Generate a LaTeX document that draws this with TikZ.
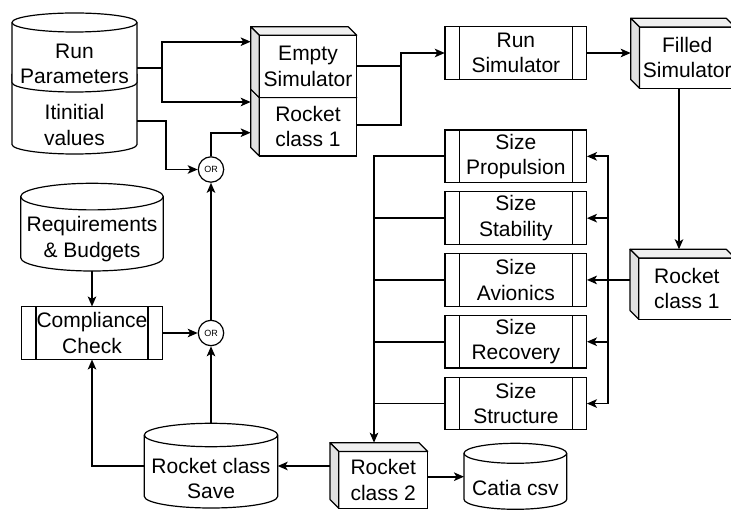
\documentclass[tikz,border=0pt]{standalone}
\usepackage{fontspec}
\setmainfont{Liberation Sans}
\usetikzlibrary{arrows.meta}

\tikzset{
  shapeline/.style={draw=black, line width=1.2pt},
  txt/.style={inner sep=0pt, align=center, font=\fontsize{21}{25.3}\selectfont},
  anchorbox/.style={inner sep=0pt, outer sep=0pt},
  conn/.style={draw=black, line width=1.8pt},
  arr/.style={conn, -{Stealth[length=10pt, width=8.5pt, inset=2.5pt]}},
  orc/.style={circle, shapeline, fill=white, minimum size=25.4pt, inner sep=0pt,
    font=\fontsize{9}{9}\selectfont},
}
\colorlet{topface}{black!6}
\colorlet{leftface}{black!12}

% cylinder: name, x1, y1, x2, y2, ellipse half height, text y, text
\newcommand\cylshape[8]{%
  \pgfmathsetmacro\cxx{(#2+#4)/2}%
  \pgfmathsetmacro\rxx{(#4-#2)/2}%
  \pgfmathsetmacro\cyy{(#3+#5)/2}%
  \pgfmathsetmacro\www{#4-#2}%
  \pgfmathsetmacro\hhh{#5-#3}%
  \draw[shapeline, fill=white] (#2,#3+#6) -- (#2,#5-#6)
    arc[start angle=180, end angle=360, x radius=\rxx pt, y radius=#6 pt]
    -- (#4,#3+#6)
    arc[start angle=0, end angle=180, x radius=\rxx pt, y radius=#6 pt] -- cycle;
  \draw[shapeline] (#2,#3+#6)
    arc[start angle=180, end angle=360, x radius=\rxx pt, y radius=#6 pt];
  \node[anchorbox, minimum width=\www pt, minimum height=\hhh pt] (#1) at (\cxx,\cyy) {};
  \node[txt] (#1-t) at (\cxx,#7) {#8};
}

% box with depth: name, x1, y1, x2, y2, depth, text
\newcommand\cubeshape[7]{%
  \pgfmathsetmacro\cxx{(#2+#4)/2}%
  \pgfmathsetmacro\cyy{(#3+#5)/2}%
  \pgfmathsetmacro\fxx{(#2+#6+#4)/2}%
  \pgfmathsetmacro\fyy{(#3+#6+#5)/2}%
  \pgfmathsetmacro\www{#4-#2}%
  \pgfmathsetmacro\hhh{#5-#3}%
  \draw[shapeline, fill=white] (#2+#6,#3+#6) rectangle (#4,#5);
  \draw[shapeline, fill=topface, line join=round] (#2,#3) -- (#4-#6,#3) -- (#4,#3+#6) -- (#2+#6,#3+#6) -- cycle;
  \draw[shapeline, fill=leftface, line join=round] (#2,#3) -- (#2+#6,#3+#6) -- (#2+#6,#5) -- (#2,#5-#6) -- cycle;
  \node[anchorbox, minimum width=\www pt, minimum height=\hhh pt] (#1) at (\cxx,\cyy) {};
  \node[txt] (#1-t) at (\fxx,\fyy) {#7};
}

% process box with side bars: name, x1, y1, x2, y2, text
\newcommand\procshape[6]{%
  \pgfmathsetmacro\cxx{(#2+#4)/2}%
  \pgfmathsetmacro\cyy{(#3+#5)/2}%
  \pgfmathsetmacro\www{#4-#2}%
  \pgfmathsetmacro\hhh{#5-#3}%
  \draw[shapeline, fill=white] (#2,#3) rectangle (#4,#5);
  \draw[shapeline] (#2+14.3,#3) -- (#2+14.3,#5) (#4-14.3,#3) -- (#4-14.3,#5);
  \node[txt, minimum width=\www pt, minimum height=\hhh pt] (#1) at (\cxx,\cyy) {#6};
}

\begin{document}
\begin{tikzpicture}[x=1pt, y=-1pt]
\useasboundingbox (0,0) rectangle (731,510);
\clip (0,0) rectangle (731,510);
\fill[white] (0,0) rectangle (731,510);

% data stores
\cylshape{iv}{12}{65}{137}{154}{9.5}{125}{Itinitial\\values}
\cylshape{rp}{12}{13}{137}{92}{9.5}{64}{Run\\Parameters}
\cylshape{req}{20.7}{183.3}{163.3}{271}{13.3}{239}{Requirements\\\& Budgets}
\cylshape{save}{144.3}{423.3}{277.7}{508}{11.7}{478.5}{Rocket class\\Save}
\cylshape{cat}{464}{443.3}{566.7}{509.3}{10}{488.3}{Catia csv}

% objects
\cubeshape{rc1}{250.7}{89}{356.7}{156}{8.6}{Rocket\\class 1}
\cubeshape{es}{250.7}{26.7}{356.7}{97.7}{8.6}{Empty\\Simulator}
\cubeshape{fill}{630.7}{18.3}{735}{88.3}{8.8}{Filled\\Simulator}
\cubeshape{rcr}{630}{249.3}{735}{319.3}{8.8}{Rocket\\class 1}
\cubeshape{rc2}{330}{442.7}{427.7}{508.3}{8.8}{Rocket\\class 2}

% processes
\procshape{run}{445}{26.7}{586.7}{79.3}{Run\\Simulator}
\procshape{sp}{445}{130}{586.7}{182.7}{Size\\Propulsion}
\procshape{sst}{445}{191.8}{586.7}{244.5}{Size\\Stability}
\procshape{savi}{445}{253.6}{586.7}{306.3}{Size\\Avionics}
\procshape{srec}{445}{315.4}{586.7}{368.1}{Size\\Recovery}
\procshape{sstr}{445}{377.2}{586.7}{429.9}{Size\\Structure}
\procshape{cc}{21.7}{306.7}{162.3}{359.3}{Compliance\\Check}

% gates
\node[orc] (or1) at (211,169.5) {OR};
\node[orc] (or2) at (211,333) {OR};

% routing points
\coordinate (jrp) at (162,68);
\coordinate (jes) at (162,41.7);
\coordinate (jrc) at (162,102);
\coordinate (jiv) at (165.7,120.7);
\coordinate (jin) at (211,132.7);
\coordinate (jes2) at (400.7,66);
\coordinate (jrc2) at (400.7,125);
\coordinate (ysave) at (211,466);
\coordinate (ycat) at (440,476.7);
\coordinate (xf) at (679,0);
\coordinate (bus) at (608,280);
\coordinate (lbus) at (374,0);

% inputs to the simulator
\draw[conn] (rp.east|-jrp) -- (jrp);
\draw[arr] (jrp) -- (jes) -- (es.west|-jes);
\draw[arr] (jrp) -- (jrc) -- (rc1.west|-jrc);
\draw[arr] (iv.east|-jiv) -- (jiv) |- (or1);
\draw[arr] (or1) |- (rc1.west|-jin);
\draw[arr] (or2) -- (or1);

% compliance loop
\draw[arr] (req) -- (cc);
\draw[arr] (cc) -- (or2);
\draw[arr] (save) -- (or2);
\draw[arr] (save.west|-ysave) -| (cc);
\draw[arr] (rc2.west|-ysave) -- (save.east|-ysave);
\draw[arr] (rc2.east|-ycat) -- (cat.west|-ycat);

% simulation
\draw[conn] (es.east|-jes2) -- (jes2);
\draw[conn] (rc1.east|-jrc2) -- (jrc2) -- (jes2);
\draw[arr] (jes2) |- (run);
\draw[arr] (run.east) -- (fill.west|-run.east);
\draw[arr] (fill.south-|xf) -- (rcr.north-|xf);

% sizing
\draw[arr] (rcr.west|-savi) -- (savi.east);
\foreach \s in {sp,sst,srec,sstr} \draw[arr] (bus) |- (\s.east);
\foreach \s in {sst,savi,srec,sstr} \draw[conn] (\s.west) -- (\s.west-|lbus);
\draw[arr] (sp.west) -| (rc2.north-|lbus);
\end{tikzpicture}
\end{document}
